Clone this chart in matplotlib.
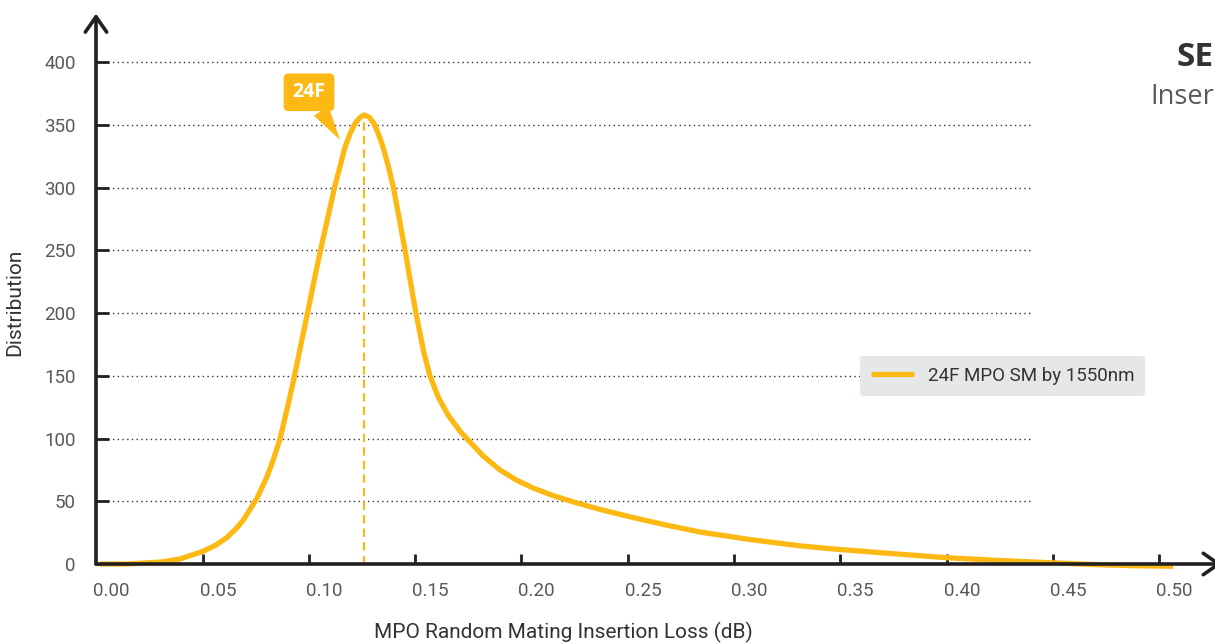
import matplotlib
matplotlib.use("Agg")
import matplotlib.pyplot as plt
import numpy as np

# ---- data ----
loss_db = [-0.0054, 0.0071, 0.0228, 0.0322, 0.0429, 0.0490, 0.0542, 0.0585, 0.0620,
           0.0683, 0.0730, 0.0761, 0.0793, 0.0828, 0.0861, 0.0891, 0.0922, 0.0952,
           0.0983, 0.1016, 0.1049, 0.1075, 0.1098, 0.1122, 0.1145, 0.1169, 0.1189,
           0.1213, 0.1235, 0.1255, 0.1278, 0.1302, 0.1326, 0.1354, 0.1381, 0.1406,
           0.1432, 0.1451, 0.1470, 0.1498, 0.1537, 0.1584, 0.1639, 0.1671, 0.1749,
           0.1827, 0.1906, 0.1984, 0.2078, 0.2172, 0.2298, 0.2454, 0.2611, 0.2768,
           0.3003, 0.3238, 0.3394, 0.3709, 0.3930, 0.4179, 0.4334, 0.4490, 0.4649,
           0.4819, 0.4993]
distribution = [0, 0, 1.5, 4, 10, 15, 21, 28, 35,
                52, 69, 83, 100, 125, 150, 175, 200, 225,
                250, 275, 300, 317, 332, 343, 351, 356, 358,
                356, 351, 343, 332, 317, 300, 275, 250, 225,
                200, 184, 168, 150, 133, 118.5, 106, 100, 86,
                75, 66.8, 60.5, 54.5, 49.5, 43.5, 37, 31, 25.5,
                19.5, 14.5, 12, 7.8, 5, 2.8, 1.6, 0.5, -0.6,
                -1.4, -1.8]
x_tick_values = [0.00, 0.05, 0.10, 0.15, 0.20, 0.25, 0.30, 0.35, 0.40, 0.45, 0.50]
x_tick_labels = ["0.00", "0.05", "0.10", "0.15", "0.20", "0.25", "0.30", "0.35", "0.40", "0.45", "0.50"]
y_tick_values = [0, 50, 100, 150, 200, 250, 300, 350, 400]
series_label = "24F MPO SM by 1550nm"
callout_label = "24F"
x_label = "MPO Random Mating Insertion Loss (dB)"
y_label = "Distribution"

ORANGE = "#FDB913"
GRAY = "#58595B"
DARK = "#231F20"

plt.rcParams['font.family'] = ['Roboto', 'DejaVu Sans']

fig = plt.figure(figsize=(12.15, 6.44), dpi=100)
ax = fig.add_axes([96 / 1215, 80 / 644, 1 - 96 / 1215, (632 - 80) / 644])
ax.set_xlim(-0.0073, 0.5191)
ax.set_ylim(0, 440)

# grid lines
for v in y_tick_values[1:]:
    ax.axhline(v, xmin=0.006, xmax=0.837, color="#333333", lw=1.0,
               linestyle=(0, (1, 2.4)), zorder=1)

# curve
ax.plot(loss_db, distribution, color=ORANGE, lw=3.8, solid_capstyle="butt",
        solid_joinstyle="round", label=series_label, zorder=2, clip_on=False)

# peak dashed line
ipk = int(np.argmax(distribution))
ax.vlines(loss_db[ipk], 0, distribution[ipk], colors=ORANGE, lw=1.5,
          linestyles=(0, (4, 2.5)), zorder=1.5)

# callout
ax.annotate(callout_label, xy=(0.1075, 338), xytext=(0.0929, 376),
            ha="center", va="center", color="white", fontsize=14, fontweight="bold",
            family=["Open Sans", "DejaVu Sans"],
            bbox=dict(boxstyle="round,pad=0.42,rounding_size=0.22", fc=ORANGE, ec=ORANGE),
            arrowprops=dict(arrowstyle="wedge,tail_width=0.9,shrink_factor=0.5",
                            fc=ORANGE, ec="none", shrinkA=0, shrinkB=0),
            zorder=5)

# spines / axes
for s in ["top", "right", "left", "bottom"]:
    ax.spines[s].set_visible(False)
ax.annotate("", xy=(0, 0.997), xytext=(0, 0), xycoords="axes fraction",
            arrowprops=dict(arrowstyle="->,head_length=0.5,head_width=0.35", lw=2.6,
                            color=DARK, shrinkA=0, shrinkB=0, mutation_scale=22),
            zorder=4, annotation_clip=False)
ax.annotate("", xy=(1.006, 0), xytext=(0, 0), xycoords="axes fraction",
            arrowprops=dict(arrowstyle="->,head_length=0.5,head_width=0.35", lw=2.6,
                            color=DARK, shrinkA=0, shrinkB=0, mutation_scale=22),
            zorder=4, annotation_clip=False)

ax.set_xticks(x_tick_values)
ax.set_xticklabels(x_tick_labels)
ax.set_xticks([v - 0.0072 for v in x_tick_values[1:]], minor=True)
ax.tick_params(axis="x", which="major", length=0, pad=13, labelsize=13.5, labelcolor=GRAY)
ax.tick_params(axis="x", which="minor", direction="in", length=7, width=2, color=DARK)
ax.set_yticks(y_tick_values)
ax.tick_params(axis="y", direction="in", length=9, width=2, color=DARK, pad=14.5,
               labelsize=13.5, labelcolor=GRAY)

ax.set_xlabel(x_label, fontsize=15, color="#333333")
ax.set_ylabel(y_label, fontsize=15, color="#333333")
ax.xaxis.set_label_coords((563 - 96) / 1119, -(622 - 564) / 552)
ax.yaxis.set_label_coords(-(96 - 24) / 1119, (564 - 302) / 552)

leg = ax.legend(loc="lower left", bbox_to_anchor=(860 / 1215, (644 - 396) / 644),
                bbox_transform=fig.transFigure, borderaxespad=0, fontsize=13.5,
                handlelength=2.3, handletextpad=0.7, borderpad=0.6, frameon=True,
                fancybox=True)
leg.get_frame().set_facecolor("#E6E7E8")
leg.get_frame().set_edgecolor("none")
leg.get_frame().set_alpha(1)
for t in leg.get_texts():
    t.set_color("#333333")

# top-right headings (cropped in the reference)
fig.text(1176 / 1215, 1 - 57 / 644, "SE", fontsize=24, fontweight="bold", color="#333333",
         family=["Open Sans", "DejaVu Sans"], ha="left", va="center")
fig.text(1150 / 1215, 1 - 97 / 644, "Inser", fontsize=19.5, color="#58595B",
         family=["Open Sans", "DejaVu Sans"], ha="left", va="center")

fig.savefig("out.png", dpi=100)
